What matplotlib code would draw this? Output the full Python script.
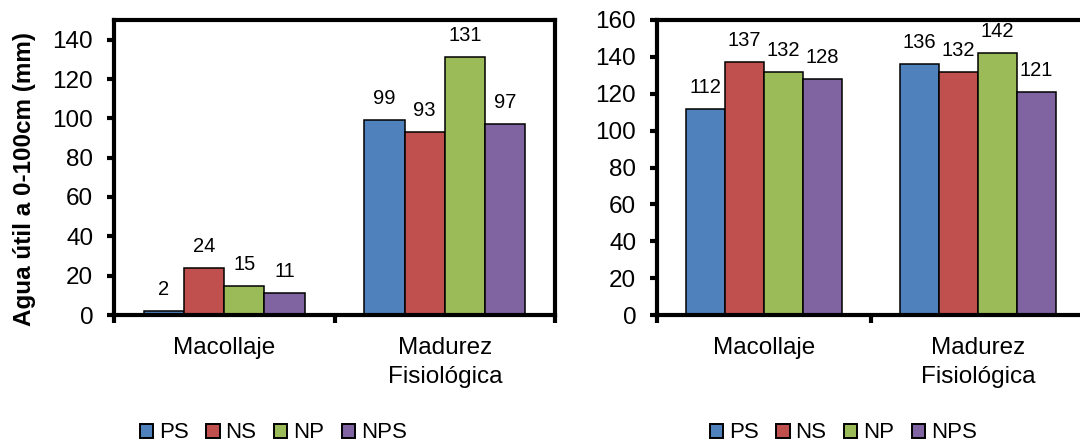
import matplotlib
matplotlib.use("Agg")
import matplotlib.pyplot as plt
from matplotlib.patches import Patch
import numpy as np

plt.rcParams['font.family'] = ['Liberation Sans', 'DejaVu Sans']

# Data
stages = ["Macollaje", "Madurez\nFisiológica"]
treatments = ["PS", "NS", "NP", "NPS"]
colors = ["#4F81BD", "#C0504D", "#9BBB59", "#8064A2"]

left_values = {
    "PS": [2, 99],
    "NS": [24, 93],
    "NP": [15, 131],
    "NPS": [11, 97],
}
right_values = {
    "PS": [112, 136],
    "NS": [137, 132],
    "NP": [132, 142],
    "NPS": [128, 121],
}

left_yticks = [0, 20, 40, 60, 80, 100, 120, 140]
right_yticks = [0, 20, 40, 60, 80, 100, 120, 140, 160]
ylabel = "Agua útil a 0-100cm (mm)"

W, H = 1080, 445
fig = plt.figure(figsize=(W / 100, H / 100), dpi=100)

bar_w = 0.182
spine_w = 3.0


def draw_panel(ax, values, yticks, ymax):
    x = np.arange(len(stages))
    for i, (t, c) in enumerate(zip(treatments, colors)):
        pos = x + (i - 1.5) * bar_w
        vals = values[t]
        ax.bar(pos, vals, width=bar_w, color=c, edgecolor="black",
               linewidth=1.1, zorder=2)
        for px, v in zip(pos, vals):
            ax.annotate(f"{v}", (px, v), xytext=(0, 11.5),
                        textcoords="offset points", ha="center",
                        va="baseline", fontsize=14.5)
    ax.set_xlim(-0.5, 1.5)
    ax.set_ylim(0, ymax)
    ax.set_yticks(yticks)
    ax.tick_params(axis="y", direction="out", length=5, width=3,
                   labelsize=17.5, pad=10)
    ax.set_xticks(x)
    ax.set_xticklabels(stages, fontsize=17.5, linespacing=1.4)
    ax.tick_params(axis="x", which="major", length=0, pad=16)
    ax.set_xticks([-0.5, 0.5, 1.5], minor=True)
    ax.tick_params(axis="x", which="minor", direction="out", length=6,
                   width=3)
    for s in ax.spines.values():
        s.set_linewidth(spine_w)
        s.set_color("black")


bottom = 1 - 315 / H
top = 1 - 20 / H

ax1 = fig.add_axes([114 / W, bottom, (555 - 114) / W, top - bottom])
draw_panel(ax1, left_values, left_yticks, 150)
ax1.set_ylabel(ylabel, fontsize=17.5, fontweight="bold")
ax1.yaxis.set_label_coords(-0.177, 0.461)

ax2 = fig.add_axes([657 / W, bottom, (1085 - 657) / W, top - bottom])
draw_panel(ax2, right_values, right_yticks, 160)

handles = [Patch(facecolor=c, edgecolor="black", linewidth=1.4, label=t)
           for t, c in zip(treatments, colors)]
legend_kw = dict(ncol=4, frameon=False, fontsize=16, handlelength=0.6,
                 handleheight=0.6, handletextpad=0.25, columnspacing=0.8,
                 borderpad=0.0, borderaxespad=0.0, loc="center left")
fig.legend(handles=handles, bbox_to_anchor=(140 / W, 1 - 433 / H), **legend_kw)
fig.legend(handles=handles, bbox_to_anchor=(710 / W, 1 - 433 / H), **legend_kw)

fig.savefig("out.png", dpi=100)
